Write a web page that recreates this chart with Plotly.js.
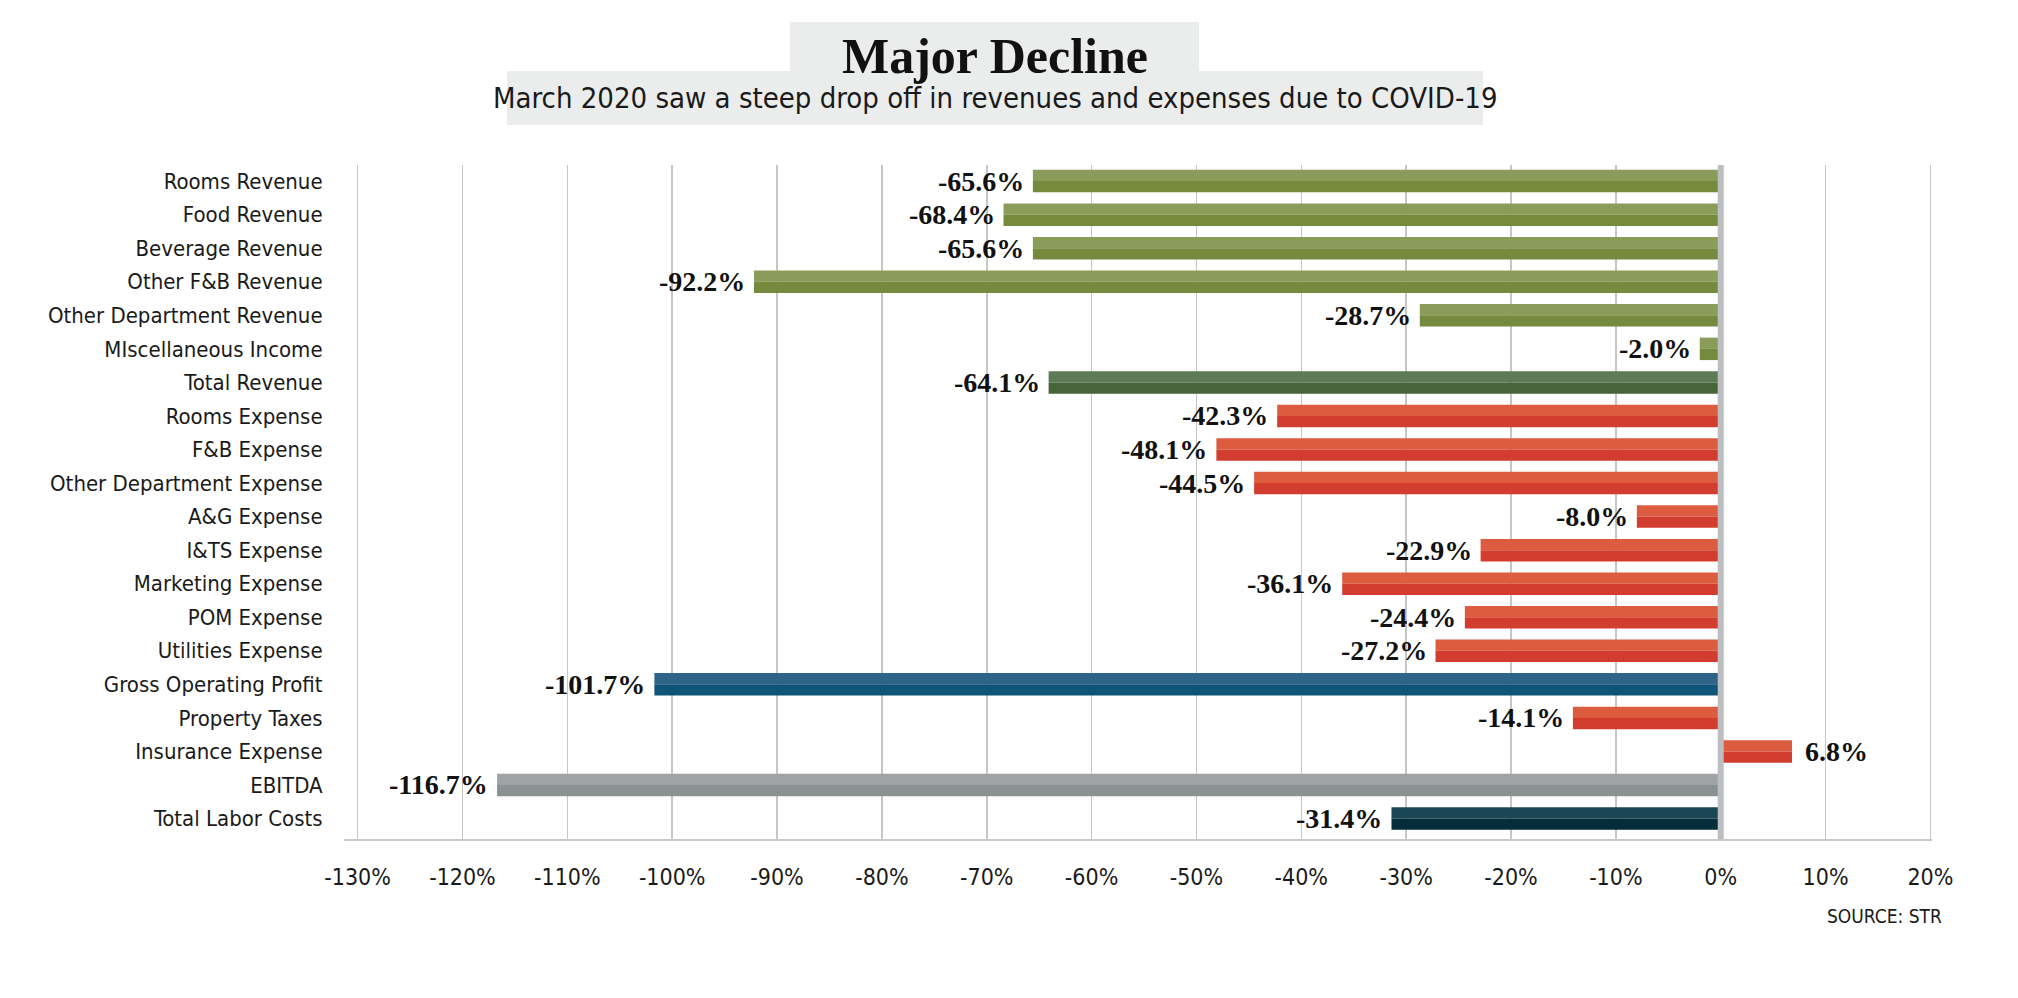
<!DOCTYPE html>
<html>
<head>
<meta charset="utf-8">
<script src="https://cdn.plot.ly/plotly-3.0.1.min.js"></script>
<style>
  html, body { margin: 0; padding: 0; background: #ffffff; }
  #chart { width: 2018px; height: 998px; }
</style>
</head>
<body>
<div id="chart"></div>
<script>
// ---- Data ----
var categories = [
  "Rooms Revenue", "Food Revenue", "Beverage Revenue", "Other F&B Revenue",
  "Other Department Revenue", "MIscellaneous Income", "Total Revenue",
  "Rooms Expense", "F&B Expense", "Other Department Expense", "A&G Expense",
  "I&TS Expense", "Marketing Expense", "POM Expense", "Utilities Expense",
  "Gross Operating Profit", "Property Taxes", "Insurance Expense", "EBITDA",
  "Total Labor Costs"
];
var changePct = [
  -65.6, -68.4, -65.6, -92.2, -28.7, -2.0, -64.1,
  -42.3, -48.1, -44.5, -8.0, -22.9, -36.1, -24.4, -27.2,
  -101.7, -14.1, 6.8, -116.7, -31.4
];
var groups = [
  "rev", "rev", "rev", "rev", "rev", "rev", "totrev",
  "exp", "exp", "exp", "exp", "exp", "exp", "exp", "exp",
  "gop", "exp", "exp", "ebitda", "labor"
];
var xTickVals = [-130, -120, -110, -100, -90, -80, -70, -60, -50, -40, -30, -20, -10, 0, 10, 20];
var xTickText = ["-130%", "-120%", "-110%", "-100%", "-90%", "-80%", "-70%", "-60%", "-50%", "-40%", "-30%", "-20%", "-10%", "0%", "10%", "20%"];

// ---- Styles ----
var lightColor = { rev: "#8b9b59", totrev: "#5f7a57", exp: "#dd5c40", gop: "#2f6489", ebitda: "#a0a3a4", labor: "#1b4654" };
var darkColor  = { rev: "#768a3e", totrev: "#46663a", exp: "#d33d30", gop: "#0f5579", ebitda: "#8b9090", labor: "#052c3a" };

var SANS = "'Liberation Sans Narrow', 'DejaVu Sans Condensed', 'Roboto', sans-serif";
var SERIF = "'Liberation Serif', 'DejaVu Serif', serif";

var W = 2018, H = 998;
var M = { l: 344, r: 86, t: 165, b: 159 };
var plotW = W - M.l - M.r, plotH = H - M.t - M.b;
function px(x) { return (x - M.l) / plotW; }
function py(y) { return (H - M.b - y) / plotH; }

var traceLight = {
  type: "bar", orientation: "h",
  y: categories, x: changePct,
  width: 0.335, offset: -0.335,
  marker: { color: groups.map(function (g) { return lightColor[g]; }), line: { width: 0 } },
  hoverinfo: "skip", showlegend: false
};
var traceDark = {
  type: "bar", orientation: "h",
  y: categories, x: changePct,
  width: 0.335, offset: 0,
  marker: { color: groups.map(function (g) { return darkColor[g]; }), line: { width: 0 } },
  hoverinfo: "skip", showlegend: false
};

var annotations = categories.map(function (c, i) {
  var v = changePct[i];
  return {
    x: v, y: c, xref: "x", yref: "y",
    text: v.toFixed(1) + "%",
    showarrow: false,
    xanchor: v < 0 ? "right" : "left",
    xshift: v < 0 ? -7 : 11,
    yanchor: "middle",
    font: { family: SERIF, size: 28, color: "#111111", weight: "bold" }
  };
});

annotations.push({
  xref: "paper", yref: "paper", x: px(995), y: py(98),
  xanchor: "center", yanchor: "middle", showarrow: false,
  text: "March 2020 saw a steep drop off in revenues and expenses due to COVID-19",
  font: { family: SANS, size: 29, color: "#1a1a1a" }
});
annotations.push({
  xref: "paper", yref: "paper", x: px(1944), y: py(916),
  xanchor: "right", yanchor: "middle", showarrow: false,
  text: "SOURCE: STR",
  font: { family: SANS, size: 19, color: "#1a1a1a" }
});

var layout = {
  width: W, height: H,
  margin: M,
  paper_bgcolor: "#ffffff",
  plot_bgcolor: "#ffffff",
  barmode: "overlay",
  title: {
    text: "Major Decline",
    x: 995 / W, xanchor: "center",
    y: 1 - 55 / H, yanchor: "middle", yref: "container",
    font: { family: SERIF, size: 50, color: "#111111", weight: "bold" }
  },
  xaxis: {
    range: [-131.3, 20.15],
    tickvals: xTickVals, ticktext: xTickText,
    showgrid: true, gridcolor: "#c6c6c6", gridwidth: 1.5,
    zeroline: false,
    showline: true, linecolor: "#c9c9c9", linewidth: 2,
    ticks: "outside", ticklen: 16, tickcolor: "rgba(0,0,0,0)",
    tickfont: { family: SANS, size: 23, color: "#1a1a1a" },
    fixedrange: true
  },
  yaxis: {
    type: "category",
    categoryorder: "array", categoryarray: categories,
    range: [19.61, -0.48],
    showgrid: false, zeroline: false, showline: false,
    ticks: "outside", ticklen: 16, tickcolor: "rgba(0,0,0,0)",
    tickfont: { family: SANS, size: 22, color: "#1a1a1a" },
    fixedrange: true
  },
  shapes: [
    { type: "rect", xref: "paper", yref: "paper", x0: px(790), x1: px(1199), y0: py(71), y1: py(22), fillcolor: "#ebecec", line: { width: 0 }, layer: "below" },
    { type: "rect", xref: "paper", yref: "paper", x0: px(507), x1: px(1483), y0: py(125), y1: py(71), fillcolor: "#ebecec", line: { width: 0 }, layer: "below" },
    { type: "line", xref: "x", yref: "paper", x0: 0, x1: 0, y0: 0, y1: 1, line: { color: "#bdbec2", width: 6 }, layer: "above" }
  ],
  annotations: annotations
};

Plotly.newPlot("chart", [traceLight, traceDark], layout, { displayModeBar: false, staticPlot: true });
</script>
</body>
</html>
